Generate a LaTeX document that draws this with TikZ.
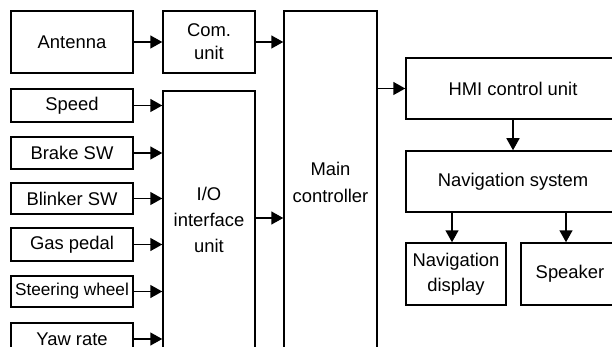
\documentclass[tikz,border=0pt]{standalone}
\usepackage{fontspec}
\setmainfont{Liberation Sans}
\usetikzlibrary{arrows.meta}
\begin{document}
\begin{tikzpicture}[x=1pt,y=-1pt,
  box/.style={draw, line width=1.5pt, inner sep=0pt, align=center,
    font=\fontsize{18.4}{25}\selectfont},
  conn/.style={line width=1.5pt, -{Triangle[length=12pt,width=13pt]}}]
\useasboundingbox (0,0) rectangle (612,347);
\clip (0,0) rectangle (612,347);
\fill[white] (0,0) rectangle (612,347);

% inputs and units on the left
\node[box, minimum width=122, minimum height=62] (ant) at (72,42) {Antenna};
\node[box, minimum width=92, minimum height=62, font=\fontsize{18.4}{23}\selectfont] (com) at (209,42) {Com.\\unit};
\node[box, minimum width=122, minimum height=33] (speed) at (72,105.5) {Speed};
\node[box, minimum width=122, minimum height=32] (brake) at (72,153) {Brake SW};
\node[box, minimum width=122, minimum height=31] (blink) at (72,198.5) {Blinker SW};
\node[box, minimum width=122, minimum height=33] (gas) at (72,244.5) {Gas pedal};
\node[box, minimum width=122, minimum height=31, font=\fontsize{17.2}{22}\selectfont] (steer) at (72,291.5) {Steering wheel};
\node[box, minimum width=122, minimum height=32] (yaw) at (72,339) {Yaw rate};
\node[box, minimum width=92, minimum height=258, font=\fontsize{18.4}{26}\selectfont] (io) at (209,220) {I/O\\interface\\unit};

% central controller
\node[box, minimum width=93, minimum height=342, font=\fontsize{18.4}{27}\selectfont] (main) at (330.5,182) {Main\\controller};

% HMI side
\node[box, minimum width=214, minimum height=61] (hmi) at (513,88.5) {HMI control unit};
\node[box, minimum width=214, minimum height=61] (nav) at (513,181.5) {Navigation system};
\node[box, minimum width=100, minimum height=62] (disp) at (456,274) {Navigation\\display};
\node[box, minimum width=98, minimum height=62] (spk) at (570,274) {Speaker};

% connectors
\draw[conn] (ant.east) -- (com.west);
\draw[conn] (com.east) -- (com.east -| main.west);
\foreach \s in {speed,brake,blink,gas,steer,yaw}
  \draw[conn] (\s.east) -- (\s.east -| io.west);
\draw[conn] ([yshift=2pt]io.east) -- ([yshift=2pt]io.east -| main.west);
\draw[conn] (hmi.west -| main.east) -- (hmi.west);
\draw[conn] (hmi.south) -- (nav.north);
\draw[conn] ([xshift=-4pt]disp.north |- nav.south) -- ([xshift=-4pt]disp.north);
\draw[conn] ([xshift=-4pt]spk.north |- nav.south) -- ([xshift=-4pt]spk.north);
\end{tikzpicture}
\end{document}
